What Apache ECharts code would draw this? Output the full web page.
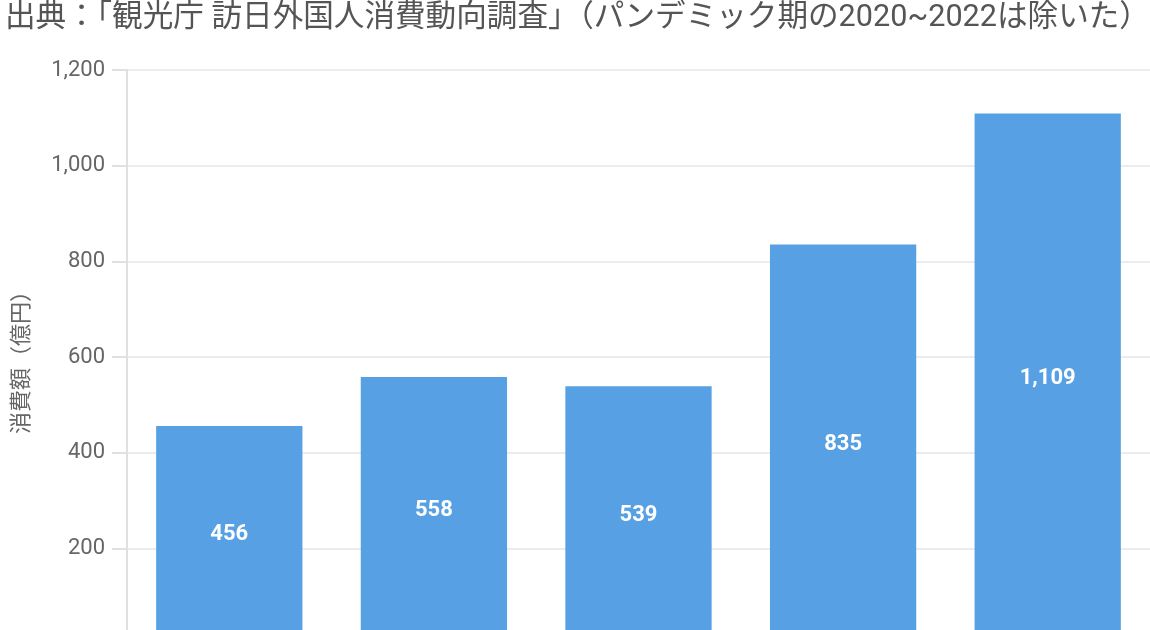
<!DOCTYPE html>
<html>
<head>
<meta charset="utf-8">
<script src="https://cdn.jsdelivr.net/npm/echarts@6/dist/echarts.min.js"></script>
<style>
html,body{margin:0;padding:0;overflow:hidden;background:#fff;}
#c{width:1150px;height:700px;}
</style>
</head>
<body>
<div id="c"></div>
<script>
const titleText = '出典：「観光庁 訪日外国人消費動向調査」（パンデミック期の2020~2022は除いた）';
const yAxisName = '消費額（億円）';
const categories = ['2016', '2017', '2018', '2019', '2023'];
const values = [456, 558, 539, 835, 1109];
const yTicks = { min: 0, max: 1200, interval: 200 };

const chart = echarts.init(document.getElementById('c'));
chart.setOption({
  animation: false,
  title: {
    text: titleText,
    left: 0, top: -2,
    textStyle: { fontFamily: 'Roboto, "Noto Sans CJK JP", sans-serif', fontSize: 30.6, fontWeight: 'normal', color: '#555' }
  },
  grid: { left: 127, right: 0, top: 70, bottom: 56 },
  xAxis: {
    type: 'category',
    data: categories,
    axisLine: { show: false },
    axisTick: { show: false },
    axisLabel: { color: '#666', fontSize: 20 }
  },
  yAxis: {
    type: 'value',
    min: yTicks.min, max: yTicks.max, interval: yTicks.interval,
    name: yAxisName,
    nameLocation: 'middle',
    nameGap: 96,
    nameRotate: 90,
    nameTextStyle: { fontFamily: '"Noto Sans CJK JP", sans-serif', fontSize: 22, color: '#666' },
    axisLine: { show: true, lineStyle: { color: '#e0e0e0', width: 2 } },
    axisTick: { show: true, length: 15, lineStyle: { color: '#e0e0e0', width: 2 } },
    axisLabel: {
      color: '#666', fontSize: 22, margin: 22, fontFamily: 'Roboto, sans-serif',
      formatter: v => v.toLocaleString('en-US')
    },
    splitLine: { lineStyle: { color: '#e6e6e6', width: 1.5 } }
  },
  series: [{
    type: 'bar',
    data: values,
    barWidth: '71.5%',
    itemStyle: { color: '#57a0e4' },
    label: {
      show: true, position: 'inside', color: '#fff', fontWeight: 'bold', fontSize: 22,
      fontFamily: 'Roboto, sans-serif',
      formatter: p => p.value.toLocaleString('en-US')
    }
  }]
});
</script>
</body>
</html>
